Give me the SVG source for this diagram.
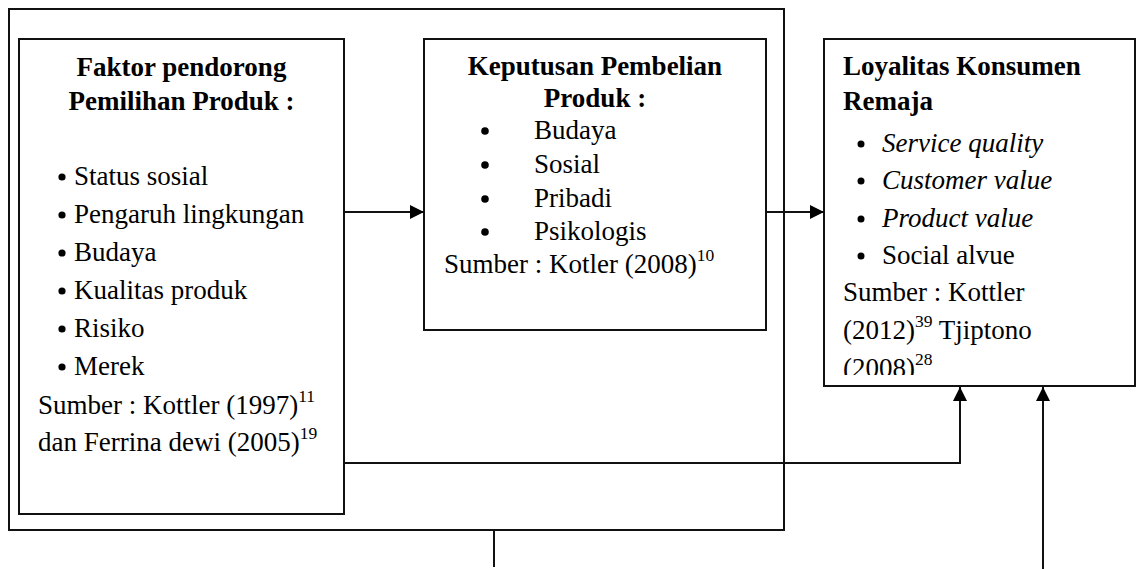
<svg xmlns="http://www.w3.org/2000/svg" width="1137" height="569" viewBox="0 0 1137 569">
  <style>
    .box { fill: #ffffff; stroke: #111111; stroke-width: 2; }
    .frame { fill: none; stroke: #111111; stroke-width: 2; }
    .t { font-family: "Liberation Serif", "Times New Roman", serif; font-size: 27px; fill: #000000; }
    .b { font-weight: bold; }
    .i { font-style: italic; }
    .c { text-anchor: middle; }
    .sup { font-size: 17.5px; }
    .dot { fill: #000000; }
    .link { fill: none; stroke: #111111; stroke-width: 2; }
  </style>
  <defs>
    <marker id="arrow" viewBox="0 0 14 14" refX="14" refY="7" markerWidth="14" markerHeight="14" markerUnits="userSpaceOnUse" orient="auto">
      <path d="M0,0 L14,7 L0,14 Z" fill="#000000"/>
    </marker>
    <clipPath id="clipLoyal">
      <rect x="824" y="39" width="312" height="336"/>
    </clipPath>
  </defs>

  <!-- enclosing frame around the two driver boxes -->
  <g id="frame">
    <rect class="frame" x="9" y="9" width="775" height="521"/>
  </g>

  <!-- Faktor pendorong -->
  <g id="node-faktor">
    <rect class="box" x="19" y="39" width="325" height="475"/>
    <text class="t b c" x="181.5" y="76">Faktor pendorong</text>
    <text class="t b c" x="181.5" y="110">Pemilihan Produk :</text>
    <g class="dot">
      <circle cx="62" cy="177" r="3.6"/>
      <circle cx="62" cy="215" r="3.6"/>
      <circle cx="62" cy="253" r="3.6"/>
      <circle cx="62" cy="291" r="3.6"/>
      <circle cx="62" cy="329" r="3.6"/>
      <circle cx="62" cy="367" r="3.6"/>
    </g>
    <g class="t">
      <text x="74" y="185">Status sosial</text>
      <text x="74" y="223">Pengaruh lingkungan</text>
      <text x="74" y="261">Budaya</text>
      <text x="74" y="299">Kualitas produk</text>
      <text x="74" y="337">Risiko</text>
      <text x="74" y="375">Merek</text>
    </g>
    <text class="t" x="38" y="414">Sumber : Kottler (1997)<tspan class="sup" dy="-12">11</tspan></text>
    <text class="t" x="38" y="451">dan Ferrina dewi (2005)<tspan class="sup" dy="-12">19</tspan></text>
  </g>

  <!-- Keputusan Pembelian -->
  <g id="node-keputusan">
    <rect class="box" x="424" y="39" width="342" height="291"/>
    <text class="t b c" x="595" y="75">Keputusan Pembelian</text>
    <text class="t b c" x="595" y="107">Produk :</text>
    <g class="dot">
      <circle cx="485" cy="131" r="3.8"/>
      <circle cx="485" cy="165" r="3.8"/>
      <circle cx="485" cy="199" r="3.8"/>
      <circle cx="485" cy="232" r="3.8"/>
    </g>
    <g class="t">
      <text x="534" y="139">Budaya</text>
      <text x="534" y="173">Sosial</text>
      <text x="534" y="207">Pribadi</text>
      <text x="534" y="240">Psikologis</text>
    </g>
    <text class="t" x="444" y="273">Sumber : Kotler (2008)<tspan class="sup" dy="-12">10</tspan></text>
  </g>

  <!-- Loyalitas Konsumen Remaja -->
  <g id="node-loyalitas">
    <rect class="box" x="824" y="39" width="311" height="347"/>
    <g clip-path="url(#clipLoyal)">
      <text class="t b" x="843" y="75">Loyalitas Konsumen</text>
      <text class="t b" x="843" y="110">Remaja</text>
      <g class="dot">
        <circle cx="861" cy="144" r="3.5"/>
        <circle cx="861" cy="181" r="3.5"/>
        <circle cx="861" cy="219" r="3.5"/>
        <circle cx="861" cy="256" r="3.5"/>
      </g>
      <text class="t i" x="882" y="152">Service quality</text>
      <text class="t i" x="882" y="189">Customer value</text>
      <text class="t i" x="882" y="227">Product value</text>
      <text class="t" x="882" y="264">Social alvue</text>
      <text class="t" x="843" y="301">Sumber : Kottler</text>
      <text class="t" x="843" y="339">(2012)<tspan class="sup" dy="-12">39</tspan><tspan dy="12"> Tjiptono</tspan></text>
      <text class="t" x="843" y="377">(2008)<tspan class="sup" dy="-12">28</tspan></text>
    </g>
  </g>

  <!-- connectors -->
  <g id="connectors">
    <line class="link" x1="344" y1="212" x2="424" y2="212" marker-end="url(#arrow)"/>
    <line class="link" x1="766" y1="212" x2="824" y2="212" marker-end="url(#arrow)"/>
    <polyline class="link" points="344,463 960,463 960,387" marker-end="url(#arrow)"/>
    <line class="link" x1="1043" y1="569" x2="1043" y2="387" marker-end="url(#arrow)"/>
    <line class="link" x1="494" y1="530" x2="494" y2="567"/>
  </g>
</svg>
